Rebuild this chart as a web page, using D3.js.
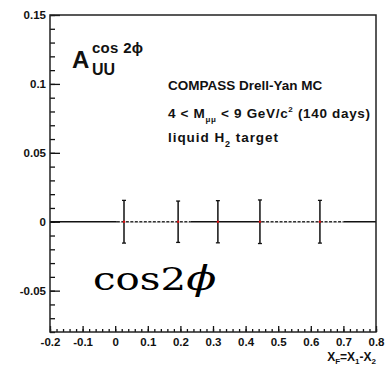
<!DOCTYPE html>
<html>
<head>
<meta charset="utf-8">
<script src="https://cdn.jsdelivr.net/npm/d3@7"></script>
<style>
  body { margin: 0; background: #fff; }
  svg text { font-family: "Liberation Sans", Arial, sans-serif; font-weight: bold; fill: #111; }
</style>
</head>
<body>
<div id="chart"></div>
<script>
// data
var pointX = [0.027, 0.193, 0.315, 0.444, 0.628];
var pointY = [0, 0, 0, 0, 0];
var pointErr = [0.0155, 0.015, 0.0153, 0.0158, 0.0155];
var dottedFrom = [0.005, 0.449];
var dottedTo = [0.232, 0.70];
var xTicks = [-0.2, -0.1, 0, 0.1, 0.2, 0.3, 0.4, 0.5, 0.6, 0.7, 0.8];
var xTickLabels = ["-0.2", "-0.1", "0", "0.1", "0.2", "0.3", "0.4", "0.5", "0.6", "0.7", "0.8"];
var yTicks = [-0.05, 0, 0.05, 0.1, 0.15];
var yTickLabels = ["-0.05", "0", "0.05", "0.1", "0.15"];

var margin = { top: 15, right: 9, bottom: 34, left: 50 },
    width = 385 - margin.left - margin.right,
    height = 366 - margin.top - margin.bottom;

var x = d3.scaleLinear().domain([-0.2, 0.8]).range([0, width]);
var y = d3.scaleLinear().domain([-0.08, 0.15]).range([height, 0]);

var svg = d3.select("#chart").append("svg")
    .attr("width", 385)
    .attr("height", 366)
    .append("g")
    .attr("transform", "translate(" + margin.left + "," + margin.top + ")");

// minor ticks
var yMinor = d3.range(-0.08, 0.1501, 0.01).map(function (d) { return +d.toFixed(2); });
var xMinor = d3.range(-0.2, 0.8001, 0.02).map(function (d) { return +d.toFixed(2); });

svg.append("g")
    .call(d3.axisLeft(y).tickValues(yMinor).tickSize(-5).tickFormat(""))
    .call(function (g) { g.select(".domain").remove(); });
svg.append("g")
    .attr("transform", "translate(0," + height + ")")
    .call(d3.axisBottom(x).tickValues(xMinor).tickSize(-3).tickFormat(""))
    .call(function (g) { g.select(".domain").remove(); });

// major ticks with labels
var yAxis = svg.append("g")
    .call(d3.axisLeft(y).tickValues(yTicks).tickSize(-10).tickPadding(4)
        .tickFormat(function (d, i) { return yTickLabels[i]; }));
yAxis.select(".domain").remove();
yAxis.selectAll("text").style("font-size", "11.5px").style("font-family", "Liberation Sans, Arial, sans-serif");

var xAxis = svg.append("g")
    .attr("transform", "translate(0," + height + ")")
    .call(d3.axisBottom(x).tickValues(xTicks).tickSize(-6).tickPadding(6)
        .tickFormat(function (d, i) { return xTickLabels[i]; }));
xAxis.select(".domain").remove();
xAxis.selectAll("text").style("font-size", "11.5px").style("font-family", "Liberation Sans, Arial, sans-serif");

svg.selectAll(".tick line").style("stroke", "#111").style("stroke-width", 1.3);

// zero line
svg.append("line")
    .attr("x1", x(-0.2)).attr("x2", x(0.8))
    .attr("y1", y(0)).attr("y2", y(0))
    .style("stroke", "#111").style("stroke-width", 1.5);

// dotted stretches of the zero line
dottedFrom.forEach(function (d, i) {
    svg.append("line")
        .attr("x1", x(d)).attr("x2", x(dottedTo[i]))
        .attr("y1", y(0)).attr("y2", y(0))
        .style("stroke", "#fff").style("stroke-width", 2);
    svg.append("line")
        .attr("x1", x(d)).attr("x2", x(dottedTo[i]))
        .attr("y1", y(0)).attr("y2", y(0))
        .style("stroke", "#333").style("stroke-width", 1.5)
        .style("stroke-dasharray", "3,1.5");
});

// error bars
var bars = svg.selectAll(".err")
    .data(pointX)
    .enter().append("g")
    .attr("class", "err");

bars.append("line")
    .attr("x1", function (d) { return x(d); })
    .attr("x2", function (d) { return x(d); })
    .attr("y1", function (d, i) { return y(pointY[i] + pointErr[i]); })
    .attr("y2", function (d, i) { return y(pointY[i] - pointErr[i]); })
    .style("stroke", "#111").style("stroke-width", 1.5);

[1, -1].forEach(function (s) {
    bars.append("line")
        .attr("x1", function (d) { return x(d) - 2; })
        .attr("x2", function (d) { return x(d) + 2; })
        .attr("y1", function (d, i) { return y(pointY[i] + s * pointErr[i]); })
        .attr("y2", function (d, i) { return y(pointY[i] + s * pointErr[i]); })
        .style("stroke", "#111").style("stroke-width", 1.3);
});

// red markers
svg.selectAll(".pt")
    .data(pointX)
    .enter().append("circle")
    .attr("class", "pt")
    .attr("cx", function (d) { return x(d); })
    .attr("cy", function (d, i) { return y(pointY[i]); })
    .attr("r", 1.2)
    .style("fill", "#d11");

// frame
svg.append("rect")
    .attr("width", width).attr("height", height)
    .style("fill", "none").style("stroke", "#222").style("stroke-width", 1.5);

// A_UU^{cos 2phi}
svg.append("text").attr("x", 22).attr("y", 53).style("font-size", "24px").text("A");
svg.append("text").attr("x", 42).attr("y", 38).style("font-size", "15px")
    .attr("textLength", 51).attr("lengthAdjust", "spacing").text("cos 2\u03d5");
svg.append("text").attr("x", 42).attr("y", 60).style("font-size", "16px").text("UU");

// info text
var info = svg.append("g").style("font-size", "13.5px");
info.append("text").attr("x", 118).attr("y", 75).text("COMPASS Drell-Yan MC");
var l2 = info.append("text").attr("x", 118).attr("y", 103)
    .attr("textLength", 202).attr("lengthAdjust", "spacing");
l2.append("tspan").text("4 < M");
l2.append("tspan").attr("dy", 4).style("font-size", "8px").text("\u03bc\u03bc");
l2.append("tspan").attr("dy", -4).text(" < 9 GeV/c");
l2.append("tspan").attr("dy", -6).style("font-size", "8px").text("2");
l2.append("tspan").attr("dy", 6).text(" (140 days)");
var l3 = info.append("text").attr("x", 118).attr("y", 127)
    .attr("textLength", 110).attr("lengthAdjust", "spacing");
l3.append("tspan").text("liquid H");
l3.append("tspan").attr("dy", 5).style("font-size", "9px").text("2");
l3.append("tspan").attr("dy", -5).text(" target");

// x axis title
var xt = svg.append("text")
    .attr("x", width).attr("y", height + 29)
    .attr("text-anchor", "end")
    .style("font-size", "12px");
xt.append("tspan").text("X");
xt.append("tspan").attr("dy", 3).style("font-size", "8px").text("F");
xt.append("tspan").attr("dy", -3).text("=X");
xt.append("tspan").attr("dy", 3).style("font-size", "8px").text("1");
xt.append("tspan").attr("dy", -3).text("-X");
xt.append("tspan").attr("dy", 3).style("font-size", "8px").text("2");

// big label, stretched sideways like the wide serif in the picture
var big = svg.append("text")
    .attr("transform", "translate(43,275) scale(1.3,1)")
    .style("font-family", "DejaVu Serif, serif")
    .style("font-weight", "normal")
    .style("font-size", "31px")
    .style("fill", "#000");
big.append("tspan").text("cos2");
big.append("tspan").style("font-style", "italic").style("font-size", "34px").text("\u03d5");
</script>
</body>
</html>
